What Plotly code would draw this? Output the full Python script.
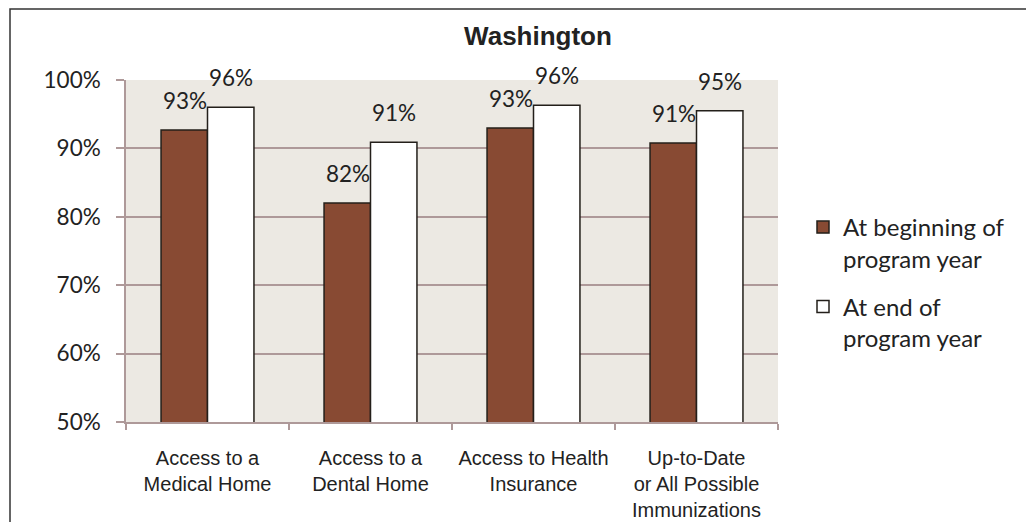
import plotly.graph_objects as go

categories = ["Access to a<br>Medical Home", "Access to a<br>Dental Home",
              "Access to Health<br>Insurance", "Up-to-Date<br>or All Possible<br>Immunizations"]
begin_vals = [92.7, 82.0, 93.0, 90.8]
end_vals = [96.0, 90.9, 96.3, 95.5]
begin_labels = ["93%", "82%", "93%", "91%"]
end_labels = ["96%", "91%", "96%", "95%"]
y_ticks = [50, 60, 70, 80, 90, 100]
y_ticktext = ["50%", "60%", "70%", "80%", "90%", "100%"]

BROWN = "#884A33"
GRID = "#AE9999"
TXT = "#222222"
LABEL_FONT = "Lato, 'Noto Sans', sans-serif"
ARIAL = "Liberation Sans, Arial, sans-serif"

W, H = 1026, 514
L, T, R, B = 118, 72, 256, 100
PW = W - L - R
PH = H - T - B

fig = go.Figure()
fig.add_trace(go.Bar(x=categories, y=begin_vals, name="At beginning of<br>program year",
                     marker=dict(color=BROWN, line=dict(color="#231F1A", width=1.5)),
                     legendgroup="a"))
fig.add_trace(go.Bar(x=categories, y=end_vals, name="At end of<br>program year",
                     marker=dict(color="white", line=dict(color="#231F1A", width=1.5)),
                     legendgroup="b"))

annotations = []
for c, v, t in zip(categories, begin_vals, begin_labels):
    annotations.append(dict(x=c, y=v, text=t, xref="x", yref="y", showarrow=False,
                            xshift=-23, yshift=14, yanchor="bottom",
                            font=dict(family=LABEL_FONT, size=22.5, color=TXT)))
for c, v, t in zip(categories, end_vals, end_labels):
    annotations.append(dict(x=c, y=v, text=t, xref="x", yref="y", showarrow=False,
                            xshift=23, yshift=14, yanchor="bottom",
                            font=dict(family=LABEL_FONT, size=22.5, color=TXT)))

fig.update_layout(
    width=W, height=H,
    margin=dict(l=L, r=R, t=T, b=B, autoexpand=False),
    paper_bgcolor="white", plot_bgcolor="#ECE9E3",
    barmode="group", bargap=0.43, bargroupgap=0,
    title=dict(text="<b>Washington</b>", x=530 / W, xref="container", y=1 - 28 / H,
               yref="container", xanchor="center", yanchor="middle",
               font=dict(family=ARIAL, size=26, color=TXT)),
    xaxis=dict(showline=True, linecolor=GRID, linewidth=1.5, ticks="outside",
               tickson="boundaries", ticklen=6, tickcolor=GRID, tickwidth=1.5,
               ticklabelstandoff=17, automargin=False,
               tickfont=dict(family=ARIAL, size=20, color=TXT),
               showgrid=False),
    yaxis=dict(range=[50, 100], tickvals=y_ticks, ticktext=y_ticktext,
               showline=True, linecolor=GRID, linewidth=1.5,
               showgrid=True, gridcolor=GRID, gridwidth=1.5,
               ticks="outside", ticklen=8, tickcolor=GRID, tickwidth=1.5,
               ticklabelstandoff=11, zeroline=False, automargin=False,
               tickfont=dict(family=LABEL_FONT, size=22.5, color=TXT)),
    legend=dict(x=(803 - 8 - L) / PW, xanchor="left", y=(414 - 197) / PH, yanchor="top",
                valign="top", tracegroupgap=14, traceorder="grouped",
                font=dict(family=LABEL_FONT, size=24, color=TXT),
                bgcolor="rgba(0,0,0,0)"),
    annotations=annotations,
    shapes=[dict(type="rect", xref="paper", yref="paper",
                 x0=(2 - L) / PW, x1=(W + 20 - L) / PW,
                 y0=(414 - 560) / PH, y1=(414 - 1) / PH,
                 line=dict(color="#333333", width=1.5), fillcolor="rgba(0,0,0,0)",
                 layer="below")],
)

fig.write_html("out.html")
